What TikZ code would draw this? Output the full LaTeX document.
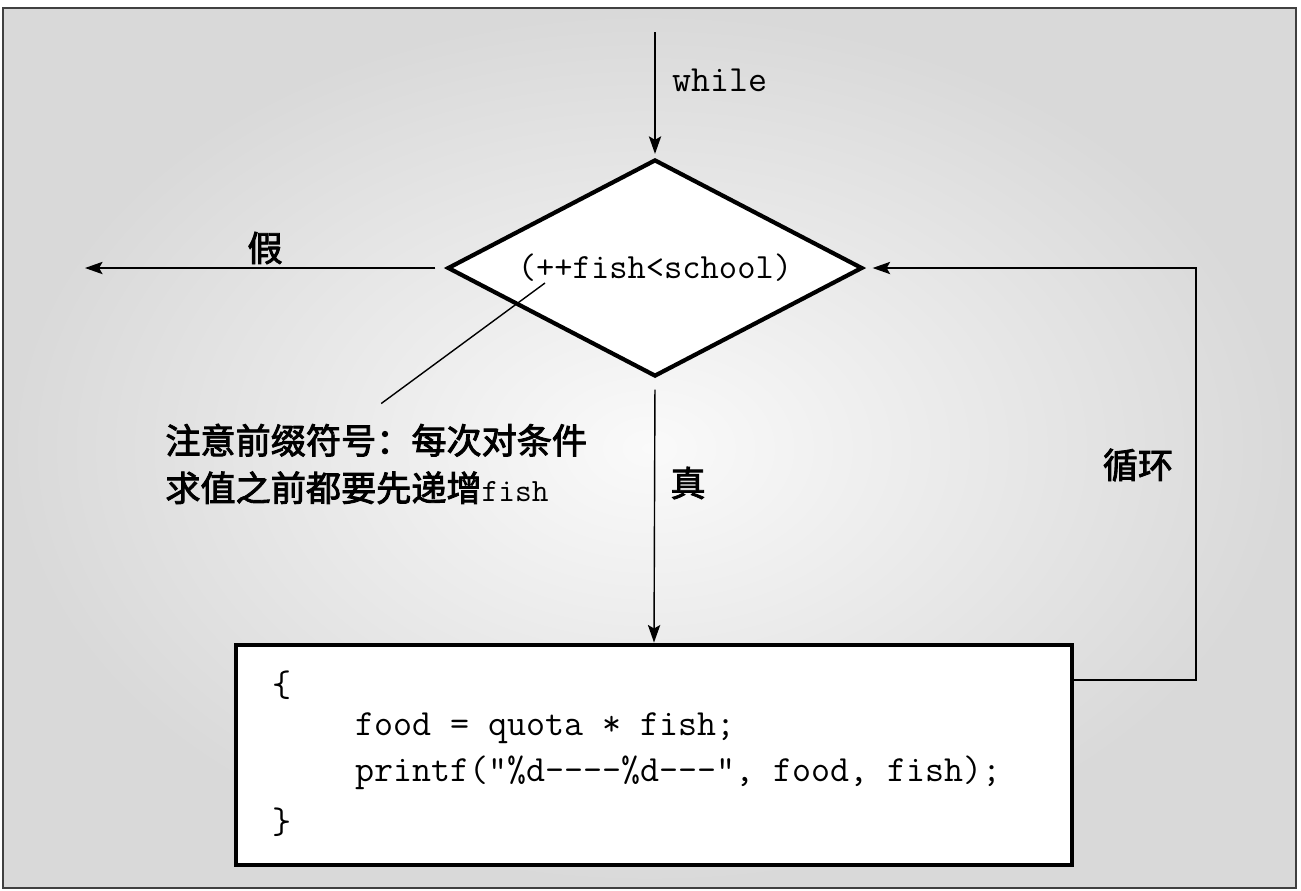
\documentclass[tikz,border=0pt]{standalone}
\usepackage{fontspec}
\newfontfamily\cjk[FakeBold=2.5]{Noto Sans CJK SC}
\usetikzlibrary{shapes.geometric, arrows.meta}
\tikzset{
decision/.style={draw, diamond, line width=2.4pt, fill=white, aspect=1.91, minimum width=8.3cm, minimum height=4.34cm, inner sep=0pt, font=\fontsize{20.2}{24}\selectfont\ttfamily},
codebox/.style={draw, rectangle, line width=2.8pt, fill=white, minimum width=16.72cm, minimum height=4.4cm},
codeline/.style={anchor=west, inner sep=0pt, font=\fontsize{21}{24}\selectfont\ttfamily},
cjklabel/.style={inner sep=0pt, font=\fontsize{20}{27}\selectfont\cjk},
flow/.style={-{Stealth[length=10pt, width=7pt, inset=2pt]}, line width=0.8pt},
}

\begin{document}
\begin{tikzpicture}
    \useasboundingbox (0,0) rectangle (26.02,-17.8);
    %background panel
    \fill[inner color=white!98!black, outer color=black!15] (0.06,-0.16) rectangle (25.92,-17.76);
    \draw[line width=1.6pt, draw=black!75] (0.06,-0.16) rectangle (25.92,-17.76);

    %shapes
    \node[decision] (cond) at (13.1,-5.36) {(++fish<school)};
    \node[codebox]  (body) at (13.08,-15.1) { };

    %code in the box
    \node[codeline] (code1) at (5.44,-13.7)  {\{};
    \node[codeline] (code2) at (7.1,-14.56)  {food = quota * fish;};
    \node[codeline] (code3) at (7.1,-15.46)  {printf("\%d----\%d---", food, fish);};
    \node[codeline] (code4) at (5.44,-16.44) {\}};

    %free ends
    \coordinate (start) at (13.1,-0.64);
    \coordinate (exit)  at (1.7,-5.36);
    \coordinate (loopa) at (23.92,-13.6);
    \coordinate (tip)   at (10.9,-5.66);

    %labels
    \node[codeline] (kw)    at (13.44,-1.6) {while};
    \node[cjklabel] (false) at (5.3,-4.96)  {假};
    \node[cjklabel] (true)  at (13.76,-9.66) {真};
    \node[cjklabel] (again) at (22.76,-9.3)  {循环};
    \node[cjklabel, anchor=west, align=left] (note) at (3.3,-9.28)
        {注意前缀符号：每次对条件\\求值之前都要先递增{\ttfamily\fontsize{18.5}{27}\selectfont fish}};

    %arrows
    \draw[flow] (start) -- ([yshift=2pt]cond.north);
    \draw[flow, shorten <=0.2cm] (cond.west) -- (exit);
    \draw[flow, shorten <=0.22cm] (cond.south) -- (body.north);
    \draw[flow, shorten >=0.16cm] (loopa -| body.east) -- (loopa) |- (cond.east);

    %pointer to the prefix
    \draw[line width=0.8pt] (tip) -- ([xshift=0.1cm, yshift=0.4cm]note.north);
\end{tikzpicture}
\end{document}
